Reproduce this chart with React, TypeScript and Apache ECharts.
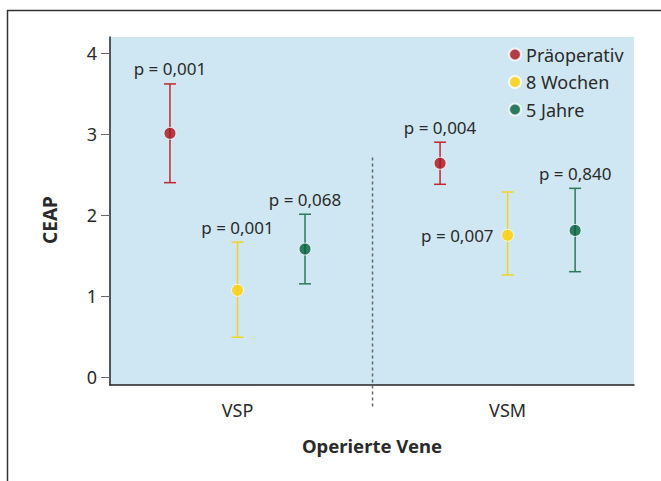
import React, { useEffect, useRef } from "react";
import * as echarts from "echarts";

const categories = ["VSP", "VSM"];
const categoryX = [0.5, 1.5];
const groupOffset = [-0.25, 0, 0.25];
const seriesNames = ["Präoperativ", "8 Wochen", "5 Jahre"];

const preMean = [3.01, 2.64];
const preLow = [2.4, 2.38];
const preHigh = [3.62, 2.9];
const preP = ["p = 0,001", "p = 0,004"];

const w8Mean = [1.07, 1.75];
const w8Low = [0.49, 1.26];
const w8High = [1.665, 2.285];
const w8P = ["p = 0,001", "p = 0,007"];

const y5Mean = [1.58, 1.81];
const y5Low = [1.15, 1.3];
const y5High = [2.01, 2.33];
const y5P = ["p = 0,068", "p = 0,840"];

const yTicks = [0, 1, 2, 3, 4];

const FONT = '"Noto Sans", sans-serif';
const TEXT = "#2a2a2a";

export default function App() {
  const ref = useRef<HTMLDivElement>(null);
  useEffect(() => {
    document.body.style.margin = "0";
    const chart = echarts.init(ref.current!, null, { renderer: "svg" });

    const groups = [
      { name: seriesNames[0], mean: preMean, low: preLow, high: preHigh, p: preP, color: "#aa1119", bar: "#c1272d", side: ["top", "top"] },
      { name: seriesNames[1], mean: w8Mean, low: w8Low, high: w8High, p: w8P, color: "#ffd000", bar: "#f5d21c", side: ["top", "left"] },
      { name: seriesNames[2], mean: y5Mean, low: y5Low, high: y5High, p: y5P, color: "#00603a", bar: "#2a7a56", side: ["top", "top"] },
    ];

    const series: any[] = [];
    groups.forEach((g, gi) => {
      series.push({
        type: "custom",
        name: g.name + " err",
        coordinateSystem: "cartesian2d",
        encode: { x: 0, y: [1, 2] },
        clip: false,
        z: 2,
        data: categoryX.map((cx, i) => [cx + groupOffset[gi], g.low[i], g.high[i], g.mean[i]]),
        renderItem: (params: any, api: any) => {
          const i = params.dataIndex;
          const x = api.value(0);
          const top = api.coord([x, api.value(2)]);
          const bot = api.coord([x, api.value(1)]);
          const mid = api.coord([x, api.value(3)]);
          const hw = 6;
          const ls = { stroke: g.bar, lineWidth: 1.5 };
          const side = g.side[i];
          const font = `17px ${FONT}`;
          const text =
            side === "left"
              ? { type: "text", x: mid[0] - 14, y: mid[1], style: { text: g.p[i], align: "right", verticalAlign: "middle", fill: TEXT, font } }
              : { type: "text", x: top[0], y: top[1] - 15, style: { text: g.p[i], align: "center", verticalAlign: "middle", fill: TEXT, font } };
          return {
            type: "group",
            children: [
              { type: "line", shape: { x1: top[0], y1: top[1], x2: bot[0], y2: bot[1] }, style: ls },
              { type: "line", shape: { x1: top[0] - hw, y1: top[1], x2: top[0] + hw, y2: top[1] }, style: ls },
              { type: "line", shape: { x1: bot[0] - hw, y1: bot[1], x2: bot[0] + hw, y2: bot[1] }, style: ls },
              text,
            ],
          };
        },
      });
      series.push({
        type: "scatter",
        name: g.name,
        z: 3,
        symbol: "circle",
        symbolSize: 12,
        itemStyle: { color: g.color, borderColor: "#fff", borderWidth: 1 },
        data: categoryX.map((cx, i) => [cx + groupOffset[gi], g.mean[i]]),
      });
    });

    // divider between the two groups
    series.push({
      type: "custom",
      name: "divider",
      coordinateSystem: "cartesian2d",
      clip: false,
      silent: true,
      data: [[1, 2.71, -0.1]],
      renderItem: (params: any, api: any) => {
        const a = api.coord([api.value(0), api.value(1)]);
        const b = api.coord([api.value(0), api.value(2)]);
        return {
          type: "line",
          shape: { x1: a[0], y1: a[1], x2: b[0], y2: b[1] + 22 },
          style: { stroke: "#666", lineWidth: 1.5, lineDash: [3, 3] },
        };
      },
    });

    chart.setOption({
      animation: false,
      textStyle: { fontFamily: FONT },
      grid: {
        left: 110,
        right: 27,
        top: 37,
        bottom: 96,
        show: true,
        backgroundColor: "#cfe7f3",
        borderWidth: 0,
      },
      legend: {
        data: seriesNames,
        orient: "vertical",
        left: 503,
        top: 39,
        icon: "circle",
        itemWidth: 12,
        itemHeight: 12,
        itemGap: 6.5,
        textStyle: { fontSize: 18, color: TEXT, lineHeight: 21, fontFamily: FONT },
      },
      xAxis: {
        type: "value",
        min: 0.028,
        max: 1.968,
        splitLine: { show: false },
        axisLine: { show: true, onZero: false, lineStyle: { color: "#222", width: 1.5 } },
        axisTick: { show: false },
        axisLabel: {
          customValues: categoryX,
          formatter: (v: number) => categories[categoryX.indexOf(v)] ?? "",
          fontSize: 18,
          color: TEXT,
          margin: 16,
        },
        name: "Operierte Vene",
        nameLocation: "middle",
        nameGap: 51,
        nameTextStyle: { fontSize: 18.5, fontWeight: "bold", color: TEXT },
      },
      yAxis: {
        type: "value",
        min: -0.1,
        max: 4.2,
        splitLine: { show: false },
        axisLine: { show: true, onZero: false, lineStyle: { color: "#222", width: 1.5 } },
        axisTick: { show: true, customValues: yTicks, length: 9, lineStyle: { color: "#666", width: 1 } },
        axisLabel: { customValues: yTicks, fontSize: 18, color: TEXT, margin: 13 },
      },
      graphic: [
        { type: "line", shape: { x1: 7, y1: 10.5, x2: 661, y2: 10.5 }, style: { stroke: "#333", lineWidth: 1.5 } },
        { type: "line", shape: { x1: 7.5, y1: 10, x2: 7.5, y2: 481 }, style: { stroke: "#333", lineWidth: 1.5 } },
        {
          type: "text",
          x: 50,
          y: 220,
          rotation: Math.PI / 2,
          style: { text: "CEAP", align: "center", verticalAlign: "middle", fill: TEXT, font: `bold 19px ${FONT}` },
        },
      ],
      series,
    });
    return () => chart.dispose();
  }, []);
  return <div ref={ref} style={{ width: 661, height: 481 }} />;
}
